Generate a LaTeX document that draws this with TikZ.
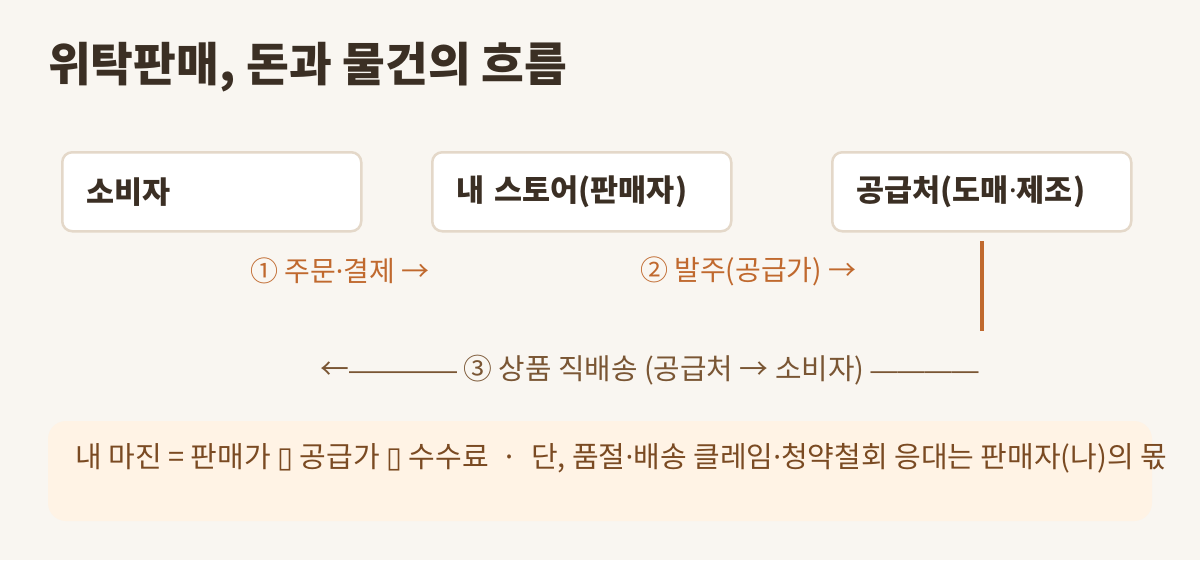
\documentclass[tikz,border=0pt]{standalone}
\usepackage{fontspec}
\setmainfont{Noto Sans CJK KR}
\newfontfamily\symfont{DejaVu Sans}
\newfontfamily\latinfont{Noto Sans}
\newfontfamily\dashfont{Liberation Sans}
\newcommand\mdot{{\latinfont ·}}
\usetikzlibrary{positioning}

\definecolor{pagebg}{HTML}{F9F6F1}
\definecolor{boxline}{HTML}{E4D8C9}
\definecolor{inkdark}{HTML}{3B2F24}
\definecolor{flowmoney}{HTML}{C0692E}
\definecolor{flowgoods}{HTML}{7A5634}
\definecolor{notefill}{HTML}{FFF3E5}
\definecolor{noteink}{HTML}{7A4A22}

\tikzset{
  partybox/.style={draw=boxline, line width=2.5pt, fill=white, rounded corners=10pt,
    anchor=north west, minimum width=299pt, minimum height=79pt,
    inner xsep=24pt, text width=251pt, align=left,
    font=\fontsize{30.5}{33}\selectfont\bfseries, text=inkdark},
  flowlabel/.style={anchor=west, inner sep=0pt, font=\fontsize{28}{30}\selectfont},
}

\begin{document}
\begin{tikzpicture}[x=1pt, y=-1pt]
		%%%%% START %%%%%
		
		\useasboundingbox[fill=pagebg] (0, 0) rectangle (1200, 560);
		
		\node[anchor=west, inner sep=0pt, text=inkdark, font=\fontsize{46.5}{50}\selectfont\bfseries] (title) at (48, 67) {위탁판매, 돈과 물건의 흐름};
		
		\node[partybox] (cons) at (61, 151) {소비자};
		\node[partybox] (store) at (431, 151) {내 스토어(판매자)};
		\node[partybox] (supp) at (831, 151) {공급처(도매\mdot 제조)};
		
		\node[flowlabel, text=flowmoney] (order) at (250, 271) {① 주문\mdot 결제 →};
		\node[flowlabel, text=flowmoney] (purchase) at (640, 271) {② 발주(공급가) →};
		
		\coordinate (shipTop) at ([yshift=-8.5pt]supp.south);
		\coordinate (shipBot) at ([yshift=-98.5pt]supp.south);
		\draw[line width=4pt, color=flowmoney] (shipTop) -- (shipBot);
		
		\node[flowlabel, text=flowgoods, font=\fontsize{28.8}{30}\selectfont] (ship) at (320, 370) {←{\dashfont\fontsize{27}{30}\selectfont ————} ③ 상품 직배송 (공급처 → 소비자) {\dashfont\fontsize{27}{30}\selectfont ————}};
		
		\fill[notefill, rounded corners=18pt] (48, 421) rectangle (1152, 521);
		\node[anchor=west, inner sep=0pt, text=noteink, font=\fontsize{29}{30}\selectfont] (note) at (75, 458) {내 마진 = 판매가 {\symfont ▯} 공급가 {\symfont ▯} 수수료 \ · \ 단, 품절\mdot 배송 클레임\mdot 청약철회 응대는 판매자(나)의 몫};
		
		%%%%% END %%%%%
	\end{tikzpicture}
\end{document}
